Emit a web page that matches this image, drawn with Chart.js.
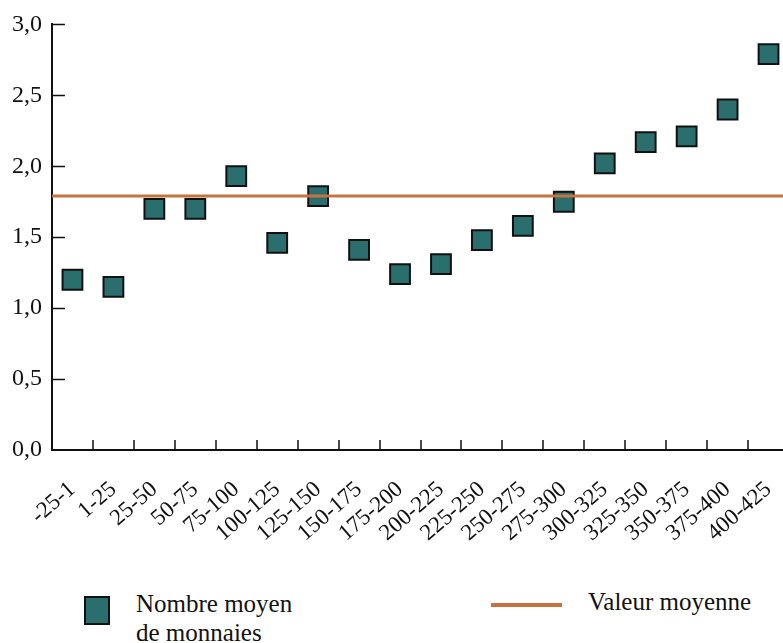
<!DOCTYPE html>
<html>
<head>
<meta charset="utf-8">
<script src="https://cdn.jsdelivr.net/npm/chart.js@4.4.1/dist/chart.umd.min.js"></script>
<style>
  html, body { margin: 0; padding: 0; background: #fff; overflow: hidden; }
  #wrap { position: relative; width: 783px; height: 643px; overflow: hidden; }
  #c { position: absolute; left: 0; top: 0; }
  .leg { position: absolute; font-family: "Liberation Serif", "DejaVu Serif", serif; font-size: 25px; color: #111; line-height: 29px; }
  .sq { position: absolute; left: 84px; top: 596px; width: 22px; height: 25px; background: #2a6e6e; border: 2px solid #111; }
  .ln { position: absolute; left: 491px; top: 603px; width: 71px; height: 4px; background: #c6743f; }
</style>
</head>
<body>
<div id="wrap">
  <canvas id="c" width="805" height="560"></canvas>
  <div class="sq"></div>
  <div class="leg" style="left:136px; top:589px;">Nombre moyen<br>de monnaies</div>
  <div class="ln"></div>
  <div class="leg" style="left:588px; top:587px;">Valeur moyenne</div>
</div>
<script>
// tranches
const categories = ['-25-1', '1-25', '25-50', '50-75', '75-100', '100-125', '125-150', '150-175', '175-200',
    '200-225', '225-250', '250-275', '275-300', '300-325', '325-350', '350-375', '375-400', '400-425'];
// nombre moyen de monnaies
const moyenne = [1.20, 1.15, 1.70, 1.70, 1.93, 1.46, 1.79, 1.41, 1.24,
    1.31, 1.48, 1.58, 1.75, 2.02, 2.17, 2.21, 2.40, 2.79];
// valeur moyenne
const valeurMoyenne = 1.79;
const yTicks = [0, 0.5, 1, 1.5, 2, 2.5, 3];

const teal = '#2a6e6e';
const orange = '#c6743f';
const fontFam = '"Liberation Serif", "DejaVu Serif", serif';

// petites graduations tournees vers l'interieur
const innerTicks = {
    id: 'innerTicks',
    afterDraw(chart) {
        const c = chart.ctx;
        const xs = chart.scales.x;
        const ys = chart.scales.y;
        const area = chart.chartArea;
        c.save();
        c.strokeStyle = '#111';
        c.lineWidth = 1.5;
        c.beginPath();
        yTicks.forEach(v => {
            if (v === 0) return;
            const py = Math.round(ys.getPixelForValue(v)) + 0.5;
            c.moveTo(area.left, py);
            c.lineTo(area.left + 13, py);
        });
        for (let i = 1; i < categories.length; i++) {
            const px = Math.round((xs.getPixelForValue(i - 1) + xs.getPixelForValue(i)) / 2);
            c.moveTo(px, area.bottom);
            c.lineTo(px, area.bottom - 10);
        }
        c.stroke();
        c.restore();
    }
};

const ctx = document.getElementById('c');
new Chart(ctx, {
    type: 'line',
    data: {
        labels: categories,
        datasets: [{
            label: 'Valeur moyenne',
            data: [{x: -0.5, y: valeurMoyenne}, {x: categories.length - 0.5, y: valeurMoyenne}],
            xAxisID: 'x2',
            borderColor: orange,
            borderWidth: 3,
            pointRadius: 0,
            order: 0
        }, {
            label: 'Nombre moyen de monnaies',
            data: moyenne,
            showLine: false,
            pointStyle: 'rect',
            pointRadius: 14,
            pointHoverRadius: 14,
            pointBackgroundColor: teal,
            pointBorderColor: '#111',
            pointBorderWidth: 2,
            order: 1
        }]
    },
    options: {
        responsive: false,
        animation: false,
        layout: {padding: {top: 10, left: 0, right: 0, bottom: 0}},
        plugins: {legend: {display: false}, tooltip: {enabled: false}},
        scales: {
            x: {
                type: 'category',
                offset: true,
                grid: {drawOnChartArea: false, drawTicks: false},
                border: {display: true, color: '#111', width: 2},
                ticks: {
                    color: '#111', font: {family: fontFam, size: 23},
                    maxRotation: 41, minRotation: 41, autoSkip: false, padding: 26
                },
                afterFit: (scale) => {
                    scale.height = 110;
                    scale.paddingLeft = 0;
                    scale.paddingRight = 0;
                }
            },
            x2: {
                type: 'linear',
                display: false,
                min: -0.5,
                max: categories.length - 0.5
            },
            y: {
                min: 0,
                max: 3,
                afterBuildTicks: (scale) => { scale.ticks = yTicks.map(v => ({value: v})); },
                grid: {drawOnChartArea: false, drawTicks: false},
                border: {display: true, color: '#111', width: 2},
                ticks: {
                    color: '#111', font: {family: fontFam, size: 24}, padding: 10,
                    callback: (v) => v.toFixed(1).replace('.', ',')
                },
                afterFit: (scale) => { scale.width = 52; }
            }
        }
    },
    plugins: [innerTicks]
});
</script>
</body>
</html>
